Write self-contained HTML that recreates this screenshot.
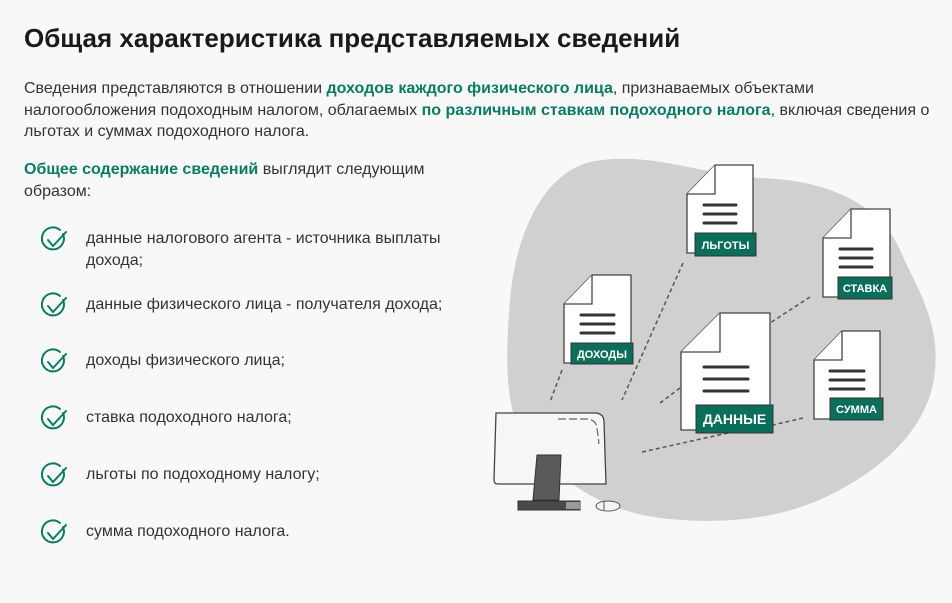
<!DOCTYPE html>
<html><head><meta charset="utf-8"><style>
body{margin:0;width:952px;height:603px;background:#f8f8f8;font-family:"Liberation Sans",Arial,sans-serif;color:#222;position:relative;overflow:hidden}
h1{position:absolute;left:24px;top:23px;margin:0;font-size:26px;font-weight:bold;color:#1a1a1a}
.p{position:absolute;left:24px;top:78px;width:912px;font-size:16px;line-height:21.5px;color:#333}
b{color:#0a7a63}
.p2{position:absolute;left:24px;top:159px;width:420px;font-size:16px;line-height:21.5px;color:#333}
.li{position:absolute;left:86px;font-size:16px;line-height:21.5px;color:#333;width:380px}
svg{position:absolute;left:0;top:0}
</style></head><body>
<svg width="952" height="603" viewBox="0 0 952 603">
<path d="M590,162 C650,150 700,175 760,178 C830,180 880,205 900,250 C915,285 940,320 935,370 C930,430 880,470 830,495 C780,520 720,525 660,518 C600,510 560,480 525,440 C505,410 505,360 510,300 C515,240 540,175 590,162 Z" fill="#d0d0d0"/>
<g stroke="#555" stroke-width="1.5" stroke-dasharray="4,3" fill="none">
<line x1="562" y1="370" x2="550" y2="402"/>
<line x1="683" y1="263" x2="622" y2="400"/>
<line x1="810" y1="297" x2="770" y2="323"/>
<line x1="680" y1="388" x2="660" y2="403"/>
<line x1="803" y1="418" x2="773" y2="425"/>
<line x1="728" y1="433" x2="642" y2="452"/>
</g>
<g stroke="#444" stroke-width="1.3">
<path d="M715,165 L753,165 L753,253 L687,253 L687,194 Z" fill="#fff"/>
<path d="M715,165 L715,194 L687,194" fill="#fff"/>
<path d="M851,209 L890,209 L890,297 L823,297 L823,238 Z" fill="#fff"/>
<path d="M851,209 L851,238 L823,238" fill="#fff"/>
<path d="M592,275 L631,275 L631,363 L564,363 L564,304 Z" fill="#fff"/>
<path d="M592,275 L592,304 L564,304" fill="#fff"/>
<path d="M720,313 L770,313 L770,430 L681,430 L681,352 Z" fill="#fff"/>
<path d="M720,313 L720,352 L681,352" fill="#fff"/>
<path d="M842,331 L880,331 L880,419 L814,419 L814,360 Z" fill="#fff"/>
<path d="M842,331 L842,360 L814,360" fill="#fff"/>
</g>
<g stroke="#333" stroke-width="3" stroke-linecap="round">
<line x1="704" y1="205" x2="736" y2="205"/><line x1="704" y1="214" x2="736" y2="214"/><line x1="704" y1="223" x2="736" y2="223"/>
<line x1="840" y1="249" x2="872" y2="249"/><line x1="840" y1="258" x2="872" y2="258"/><line x1="840" y1="267" x2="872" y2="267"/>
<line x1="581" y1="315" x2="614" y2="315"/><line x1="581" y1="324" x2="614" y2="324"/><line x1="581" y1="333" x2="614" y2="333"/>
<line x1="704" y1="367" x2="748" y2="367"/><line x1="704" y1="379" x2="748" y2="379"/><line x1="704" y1="391" x2="748" y2="391"/>
<line x1="830" y1="371" x2="864" y2="371"/><line x1="830" y1="380" x2="864" y2="380"/><line x1="830" y1="389" x2="864" y2="389"/>
</g>
<g fill="#0a6e5a" stroke="#333" stroke-width="1">
<rect x="695" y="233" width="61" height="23"/>
<rect x="838" y="277" width="54" height="22"/>
<rect x="571" y="343" width="62" height="21"/>
<rect x="696" y="405" width="77" height="28"/>
<rect x="830" y="398" width="53" height="22"/>
</g>
<g fill="#fff" font-family="Liberation Sans,sans-serif" font-weight="bold" text-anchor="middle">
<text x="725.5" y="249" font-size="11">ЛЬГОТЫ</text>
<text x="865" y="292" font-size="11">СТАВКА</text>
<text x="602" y="358" font-size="11">ДОХОДЫ</text>
<text x="734.5" y="424" font-size="14">ДАННЫЕ</text>
<text x="856.5" y="413" font-size="11">СУММА</text>
</g>
<path d="M496,413 L596,413 Q604,414 604,422 L606,484 L498,484 Q494,484 494,480 Z" fill="#f6f6f6" stroke="#444" stroke-width="1.3"/>
<path d="M558,419 L588,419 Q596,420 597,428 L599,444" fill="none" stroke="#666" stroke-width="1.2" stroke-dasharray="8,3"/>
<path d="M537,455 L561,455 L559,500 L533,500 Z" fill="#5a5a5a" stroke="#333"/>
<rect x="518" y="501" width="62" height="9" fill="#4a4a4a" stroke="#333"/>
<rect x="566" y="502" width="14" height="7" fill="#999"/>
<ellipse cx="608" cy="506" rx="12" ry="5" fill="#f4f4f4" stroke="#555"/>
<line x1="604" y1="501" x2="604" y2="511" stroke="#555"/>
<g fill="none" stroke="#0a7a63" stroke-width="2" stroke-linecap="round">
<g id="ck"><path d="M63,234 A11,11 0 1 1 60,230"/><path d="M48,240 L53,246 L66,232"/></g>
<use href="#ck" y="66"/><use href="#ck" y="122"/><use href="#ck" y="179"/><use href="#ck" y="236"/><use href="#ck" y="293"/>
</g>
</svg>
<h1>Общая характеристика представляемых сведений</h1>
<div class="p">Сведения представляются в отношении <b>доходов каждого физического лица</b>, признаваемых объектами налогообложения подоходным налогом, облагаемых <b>по различным ставкам подоходного налога</b>, включая сведения о льготах и суммах подоходного налога.</div>
<div class="p2"><b>Общее содержание сведений</b> выглядит следующим образом:</div>
<div class="li" style="top:228px">данные налогового агента - источника выплаты дохода;</div>
<div class="li" style="top:294px">данные физического лица - получателя дохода;</div>
<div class="li" style="top:350px">доходы физического лица;</div>
<div class="li" style="top:407px">ставка подоходного налога;</div>
<div class="li" style="top:464px">льготы по подоходному налогу;</div>
<div class="li" style="top:521px">сумма подоходного налога.</div>
</body></html>
